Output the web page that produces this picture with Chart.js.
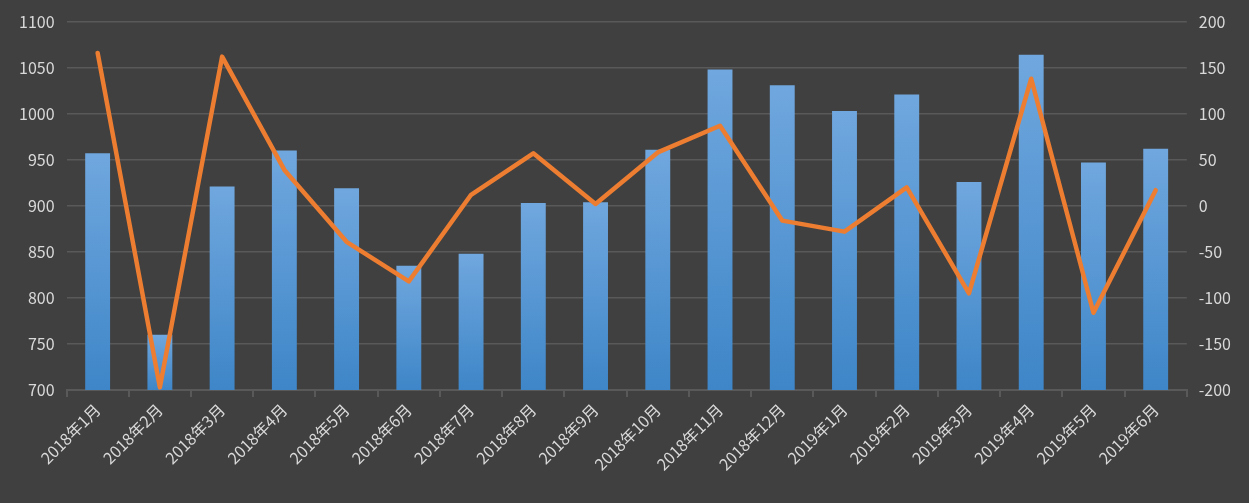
<!DOCTYPE html>
<html>
<head>
<meta charset="utf-8">
<script src="https://cdn.jsdelivr.net/npm/chart.js@4/dist/chart.umd.min.js"></script>
<style>
    html, body { margin: 0; padding: 0; background: #404040; }
    #box { width: 1249px; height: 503px; }
</style>
</head>
<body>
<div id="box"><canvas id="chart"></canvas></div>
<script>
// 월별 데이터
var months = ['2018年1月', '2018年2月', '2018年3月', '2018年4月', '2018年5月', '2018年6月',
    '2018年7月', '2018年8月', '2018年9月', '2018年10月', '2018年11月', '2018年12月',
    '2019年1月', '2019年2月', '2019年3月', '2019年4月', '2019年5月', '2019年6月'];
var barValues = [957, 760, 921, 960, 919, 835, 848, 903, 904, 961, 1048, 1031, 1003, 1021, 926, 1064, 947, 962];
var lineValues = [166, -197, 162, 39, -39, -82, 12, 57, 2, 58, 87, -16, -28, 20, -95, 138, -116, 17];

var textColor = '#d9d9d9';
var gridColor = '#595959';
var font = { family: '"Noto Sans CJK SC", "Noto Sans", sans-serif', size: 16 };

// 막대별 세로 그라데이션
function barFill(ctx) {
    var chart = ctx.chart;
    if (!chart.chartArea || ctx.parsed == null) {
        return '#5b9bd5';
    }
    var yScale = chart.scales.y;
    var top = yScale.getPixelForValue(ctx.parsed.y);
    var bottom = yScale.getPixelForValue(700);
    if (!isFinite(top) || top === bottom) {
        return '#5b9bd5';
    }
    var g = chart.ctx.createLinearGradient(0, top, 0, bottom);
    g.addColorStop(0, '#70a7de');
    g.addColorStop(1, '#3e86c8');
    return g;
}

function plain(v) {
    return String(v);
}

new Chart(document.getElementById('chart'), {
    data: {
        labels: months,
        datasets: [{
            type: 'line',
            data: lineValues,
            yAxisID: 'y2',
            borderColor: '#ed7d31',
            borderWidth: 4.5,
            pointRadius: 0,
            tension: 0,
            borderCapStyle: 'round',
            borderJoinStyle: 'round',
            order: 0
        }, {
            type: 'bar',
            data: barValues,
            yAxisID: 'y',
            backgroundColor: barFill,
            barPercentage: 0.8,
            categoryPercentage: 0.5,
            order: 1
        }]
    },
    options: {
        responsive: true,
        maintainAspectRatio: false,
        animation: false,
        layout: { padding: { top: 19, left: 7, right: 6, bottom: 26 } },
        plugins: {
            legend: { display: false },
            tooltip: { enabled: false }
        },
        scales: {
            x: {
                offset: true,
                grid: {
                    offset: true,
                    drawOnChartArea: false,
                    color: gridColor,
                    tickLength: 7,
                    lineWidth: 2
                },
                border: { color: gridColor, width: 2 },
                ticks: {
                    color: textColor,
                    font: font,
                    maxRotation: 45,
                    minRotation: 45,
                    autoSkip: false
                }
            },
            y: {
                position: 'left',
                min: 700,
                max: 1100,
                grid: { color: gridColor, drawTicks: false, lineWidth: 1.5 },
                border: { display: false },
                ticks: { stepSize: 50, color: textColor, font: font, padding: 12, callback: plain }
            },
            y2: {
                position: 'right',
                min: -200,
                max: 200,
                grid: { display: false, drawTicks: false },
                border: { display: false },
                ticks: { stepSize: 50, color: textColor, font: font, padding: 12, callback: plain }
            }
        }
    }
});
</script>
</body>
</html>
